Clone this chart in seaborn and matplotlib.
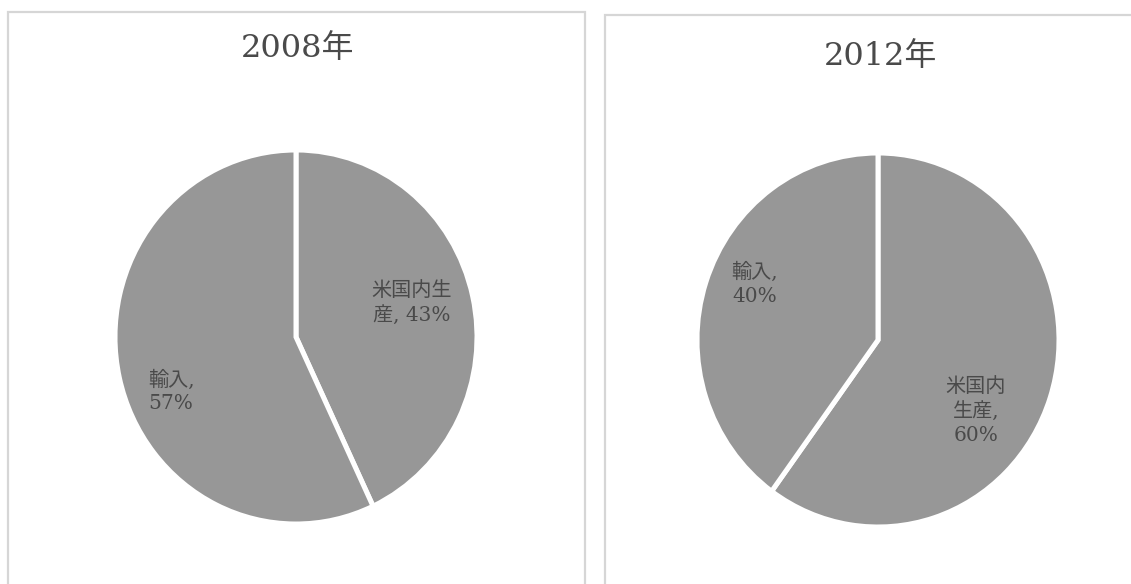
import matplotlib
matplotlib.use("Agg")
import matplotlib.pyplot as plt
from matplotlib.patches import Rectangle
import seaborn as sns

# Share of supply: domestic production vs imports
years = ["2008年", "2012年"]
categories = ["米国内生産", "輸入"]
values_2008 = [43, 57]
values_2012 = [60, 40]
labels_2008 = ["米国内生\n産, 43%", "輸入,\n57%"]
labels_2012 = ["米国内\n生産,\n60%", "輸入,\n40%"]

sns.set_theme(style="white")
plt.rcParams["font.family"] = ["DejaVu Serif", "Noto Sans CJK JP", "DejaVu Sans"]

W, H = 1131, 584
fig = plt.figure(figsize=(W / 100, H / 100), dpi=100)
fig.patch.set_facecolor("white")

slice_color = "#979797"
text_color = "#4a4a4a"
frame_color = "#d6d6d6"


def px_rect(x0, y0, x1, y1):
    """Figure-fraction rectangle from pixel coordinates (top-left origin)."""
    return [x0 / W, 1 - y1 / H, (x1 - x0) / W, (y1 - y0) / H]


# panel frames
for (x0, y0, x1, y1) in [(8, 12, 585, 600), (605, 15, 1145, 600)]:
    fig.patches.append(Rectangle((x0 / W, 1 - y1 / H), (x1 - x0) / W, (y1 - y0) / H,
                                 transform=fig.transFigure, fill=False,
                                 edgecolor=frame_color, linewidth=1.6))

panels = [
    (values_2008, labels_2008, px_rect(115, 150, 477, 524), (298, 48),
     [(0.64, 0.18), (-0.69, -0.29)]),
    (values_2012, labels_2012, px_rect(697, 153, 1059, 527), (880, 56),
     [(0.54, -0.38), (-0.68, 0.30)]),
]

for (vals, labs, rect, title_xy, label_pos), year in zip(panels, years):
    ax = fig.add_axes(rect)
    ax.pie(vals, colors=[slice_color] * len(vals), startangle=90, counterclock=False,
           radius=1.0, wedgeprops=dict(edgecolor="white", linewidth=3.6))
    ax.set_aspect("auto")
    ax.set_xlim(-1, 1)
    ax.set_ylim(-1, 1)
    ax.axis("off")
    for lab, (lx, ly) in zip(labs, label_pos):
        ax.text(lx, ly, lab, ha="center", va="center", fontsize=14.5,
                color=text_color, linespacing=1.3)
    fig.text(title_xy[0] / W, 1 - title_xy[1] / H, year, ha="center", va="center",
             fontsize=23, color=text_color)

fig.savefig("out.png", dpi=100, facecolor="white")
